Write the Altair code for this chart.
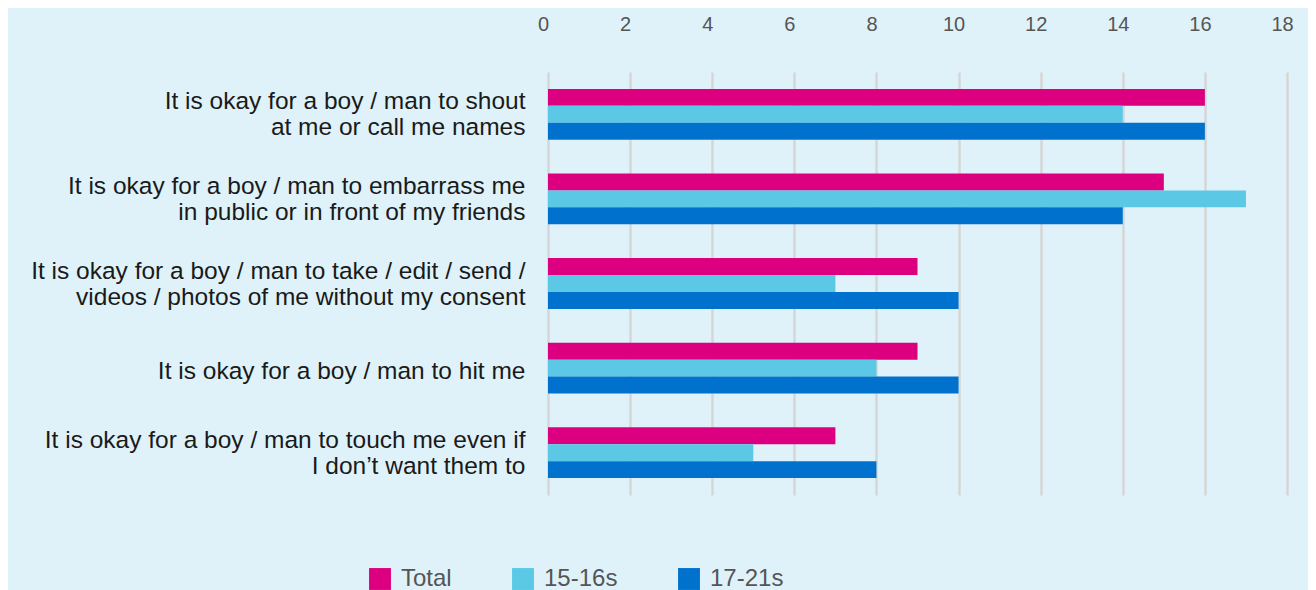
import altair as alt
import pandas as pd

categories = [
    "It is okay for a boy / man to shout|at me or call me names",
    "It is okay for a boy / man to embarrass me|in public or in front of my friends",
    "It is okay for a boy / man to take / edit / send /|videos / photos of me without my consent",
    "It is okay for a boy / man to hit me",
    "It is okay for a boy / man to touch me even if|I don\u2019t want them to",
]
series = ["Total", "15-16s", "17-21s"]
total = [16, 15, 9, 9, 7]
age_15_16 = [14, 17, 7, 8, 5]
age_17_21 = [16, 14, 10, 10, 8]
colors = ["#dc0081", "#5bc8e6", "#0072ce"]
x_ticks = [0, 2, 4, 6, 8, 10, 12, 14, 16, 18]

rows = []
for i, c in enumerate(categories):
    for s, vals in zip(series, [total, age_15_16, age_17_21]):
        rows.append({"category": c, "series": s, "value": vals[i]})
df = pd.DataFrame(rows)

chart = alt.Chart(df).mark_bar().encode(
    y=alt.Y("category:N", sort=categories, title=None,
            scale=alt.Scale(paddingInner=0.4, paddingOuter=0.2),
            axis=alt.Axis(labelExpr="split(datum.label, '|')", labelFontSize=24.5,
                          labelColor="#1a1a1a", labelFont="Liberation Sans",
                          labelLineHeight=26, labelPadding=23, domain=False,
                          ticks=False, labelLimit=700,
                          labelOffset={"condition": {"test": "indexof(datum.label, '|') >= 0", "value": -12},
                                       "value": 4})),
    yOffset=alt.YOffset("series:N", sort=series, scale=alt.Scale(paddingInner=0, paddingOuter=0)),
    x=alt.X("value:Q", title=None,
            scale=alt.Scale(domain=[0, 18], nice=False),
            axis=alt.Axis(orient="top", values=x_ticks, labelFontSize=20,
                          labelColor="#555555", labelFont="Liberation Sans",
                          labelPadding=38, labelFlush=False, labelOffset=-5,
                          domain=False, ticks=False,
                          grid=True, gridColor="#d6d6d6", gridWidth=2.5)),
    color=alt.Color("series:N", sort=series,
                    scale=alt.Scale(domain=series, range=colors),
                    legend=alt.Legend(title=None, orient="none", direction="horizontal",
                                      legendX=-180, legendY=495,
                                      symbolType="square", symbolSize=480,
                                      symbolStrokeWidth=0,
                                      labelFontSize=24, labelColor="#555555",
                                      labelFont="Liberation Sans", labelOffset=9,
                                      columnPadding=59)),
).properties(
    width=739, height=423,
    autosize=alt.AutoSizeParams(type="none"),
    padding={"left": 540, "top": 64, "right": 21, "bottom": 95},
    background="#dff2f9",
).configure_view(stroke=None)

chart.save("out.html", embed_options={"renderer": "svg", "actions": False})
